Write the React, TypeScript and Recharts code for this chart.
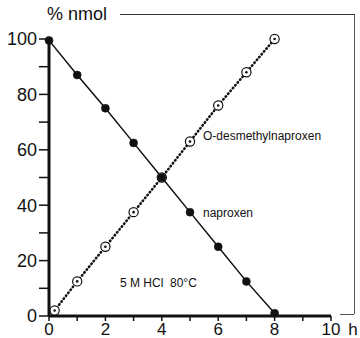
import { LineChart, Line, XAxis, YAxis } from 'recharts';

const hours = [0, 1, 2, 3, 4, 5, 6, 7, 8];
const naproxenPct = [99.5, 87, 75, 62.5, 50, 37.5, 25, 12.5, 1];
const desmethylHours = [0.2, 1, 2, 3, 4, 5, 6, 7, 8];
const desmethylPct = [2, 12.5, 25, 37.5, 50, 63, 76, 88, 100];
const xTicks = [0, 1, 2, 3, 4, 5, 6, 7, 8, 9, 10];
const yTicks = [0, 10, 20, 30, 40, 50, 60, 70, 80, 90, 100];

const naproxen = hours.map((h, i) => ({ h, v: naproxenPct[i] }));
const desmethyl = desmethylHours.map((h, i) => ({ h, v: desmethylPct[i] }));

const FONT = "'Liberation Sans', Arial, Helvetica, sans-serif";

function XTick(props: any) {
  const { x, y, payload } = props;
  const val = payload.value as number;
  if (val % 2 !== 0) return null;
  return (
    <g>
      <text x={x} y={y} dy="0.71em" textAnchor="middle" fontSize={17} fill="#111" fontFamily={FONT}>
        {val}
      </text>
      {val === 10 && (
        <text x={x + 22} y={y} dy="0.71em" textAnchor="middle" fontSize={17} fill="#111" fontFamily={FONT}>
          h
        </text>
      )}
    </g>
  );
}

function RingDot(props: any) {
  const { cx, cy } = props;
  if (cx == null || cy == null) return null;
  return (
    <g>
      <circle cx={cx} cy={cy} r={4.6} fill="#fff" stroke="#111" strokeWidth={1.2} />
      <circle cx={cx} cy={cy} r={1.3} fill="#111" />
    </g>
  );
}

export default function App() {
  return (
    <div style={{ position: 'absolute', left: 0, top: 0, width: 360, height: 338, background: '#fff', fontFamily: FONT }}>
      {/* scanned frame remnants */}
      <div style={{ position: 'absolute', left: 120, top: 14, width: 234, height: 0, borderTop: '1px solid #333' }} />
      <div style={{ position: 'absolute', left: 354, top: 14, width: 0, height: 300, borderLeft: '1px solid #555' }} />
      <div style={{ position: 'absolute', left: 340, top: 314, width: 14, height: 0, borderTop: '1px solid #555' }} />
      <div style={{ position: 'absolute', left: 47, top: 3, fontSize: 18, color: '#111', lineHeight: '22px' }}>% nmol</div>
      <div style={{ position: 'absolute', left: 203, top: 128, fontSize: 12, color: '#111', lineHeight: '16px' }}>
        O-desmethylnaproxen
      </div>
      <div style={{ position: 'absolute', left: 203, top: 205, fontSize: 12, color: '#111', lineHeight: '16px' }}>naproxen</div>
      <div style={{ position: 'absolute', left: 120, top: 275, fontSize: 12, color: '#111', lineHeight: '16px', whiteSpace: 'pre' }}>
        5 M HCl  80°C
      </div>
      <LineChart width={360} height={338} margin={{ top: 39, right: 29, bottom: 0, left: 0 }}>
        <XAxis
          dataKey="h"
          type="number"
          domain={[0, 10]}
          ticks={xTicks}
          interval={0}
          height={22}
          axisLine={{ stroke: '#111', strokeWidth: 3 }}
          tickLine={{ stroke: '#111', strokeWidth: 1.5 }}
          tickSize={5}
          tickMargin={2}
          tick={<XTick />}
          allowDuplicatedCategory={false}
        />
        <YAxis
          dataKey="v"
          type="number"
          domain={[0, 100]}
          ticks={yTicks}
          interval={0}
          width={49}
          axisLine={{ stroke: '#111', strokeWidth: 3 }}
          tickLine={{ stroke: '#111', strokeWidth: 1.5 }}
          tickSize={10}
          tickMargin={2}
          tickFormatter={(v: number) => (v % 20 === 0 ? String(v) : '')}
          tick={{ fontSize: 18, fill: '#111', fontFamily: FONT }}
        />
        <Line
          data={desmethyl}
          dataKey="v"
          stroke="#111"
          strokeWidth={2.6}
          strokeDasharray="0.5 3.2"
          strokeLinecap="round"
          dot={<RingDot />}
          activeDot={false}
          isAnimationActive={false}
        />
        <Line
          data={naproxen}
          dataKey="v"
          stroke="#111"
          strokeWidth={1.5}
          dot={{ r: 4, fill: '#111', stroke: '#111', strokeWidth: 0.5 }}
          activeDot={false}
          isAnimationActive={false}
        />
      </LineChart>
    </div>
  );
}
